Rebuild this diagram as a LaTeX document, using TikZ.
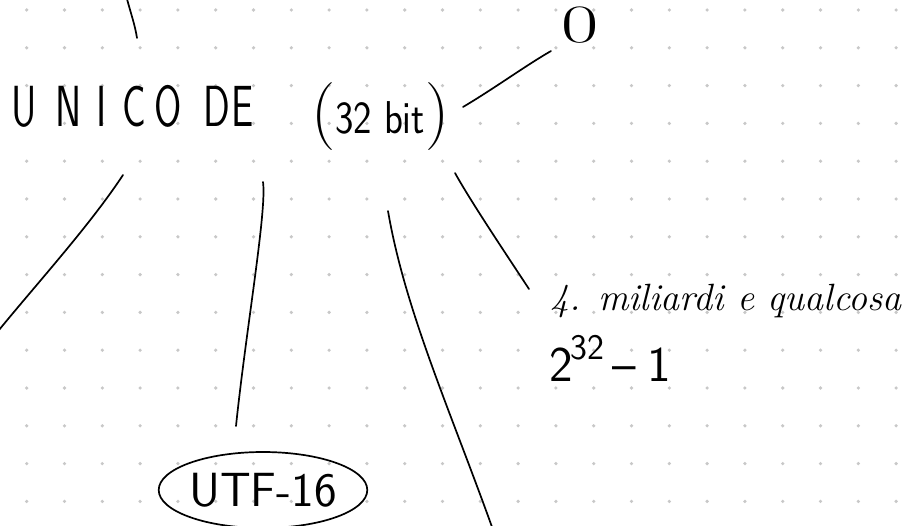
\documentclass[tikz,border=0pt]{standalone}
\usepackage{fontspec}
\usetikzlibrary{shapes.geometric}
\definecolor{dotc}{HTML}{C8C8C8}
\tikzset{
  ink/.style={line width=1.7pt, line cap=round, line join=round, black},
  dotgrid/.style={fill=dotc},
  txt/.style={inner sep=0pt, outer sep=0pt, black},
}
\begin{document}
\begin{tikzpicture}[x=1pt,y=-1pt]
\useasboundingbox (0,0) rectangle (909,526);
\fill[white] (0,0) rectangle (909,526);
% dot grid
\foreach \i in {0,...,23}{
  \foreach \j in {0,...,13}{
    \fill[dotgrid] ({26.7+37.8*\i},{10+37.8*\j}) circle (1.8pt);
  }
}
% texts
\node[txt, anchor=base west] (uni) at (12,127)
  {\sffamily\fontsize{58}{58}\selectfont\scalebox{0.68}[1]{U\kern26pt N\kern22pt I\kern24pt C\kern12pt O\kern32pt D\kern2pt E}};
\node[txt, anchor=base west] (bit) at (311,134)
  {{\fontsize{68}{68}\selectfont(}{\sffamily\fontsize{46}{46}\selectfont\scalebox{0.85}[1]{32 bit}}{\fontsize{68}{68}\selectfont)}};
\node[txt] (zero) at (580,25)
  {\fontsize{54}{54}\selectfont\scalebox{1.5}[1]{0}};
\node[txt, anchor=base west] (quattro) at (550,310)
  {\itshape\fontsize{38}{38}\selectfont 4. miliardi e qualcosa};
\node[txt, anchor=base west] (pow) at (549,381)
  {\sffamily\fontsize{50}{50}\selectfont 2\kern-2pt\raisebox{22pt}{\fontsize{36}{36}\selectfont 32}\kern8pt--\kern12pt 1};
\node[ink, draw, ellipse, inner sep=0pt, minimum width=194pt, minimum height=76pt,
      font=\sffamily\fontsize{48}{48}\selectfont] (utf) at (263,490) {UTF-16};
% connector end points
\coordinate (t1) at (127,-1);   \coordinate (t2) at (137,38);
\coordinate (r1) at (463,107);  \coordinate (r2) at (551,51);
\coordinate (d1) at (455,173);  \coordinate (d2) at (529,289);
\coordinate (m1) at (388,211);  \coordinate (m2) at (492,527);
\coordinate (c1) at (263,182);  \coordinate (c2) at (236,426);
\coordinate (l1) at (123,175);  \coordinate (l2) at (-1,330);
% connectors
\draw[ink] (t1) .. controls (131,14) and (135,25) .. (t2);
\draw[ink] (r1) .. controls (495,88) and (525,66) .. (r2);
\draw[ink] (d1) .. controls (470,200) and (500,245) .. (d2);
\draw[ink] (m1) .. controls (405,310) and (450,410) .. (m2);
\draw[ink] (c1) .. controls (267,210) and (246,330) .. (c2);
\draw[ink] (l1) .. controls (90,225) and (40,280) .. (l2);
\end{tikzpicture}
\end{document}
